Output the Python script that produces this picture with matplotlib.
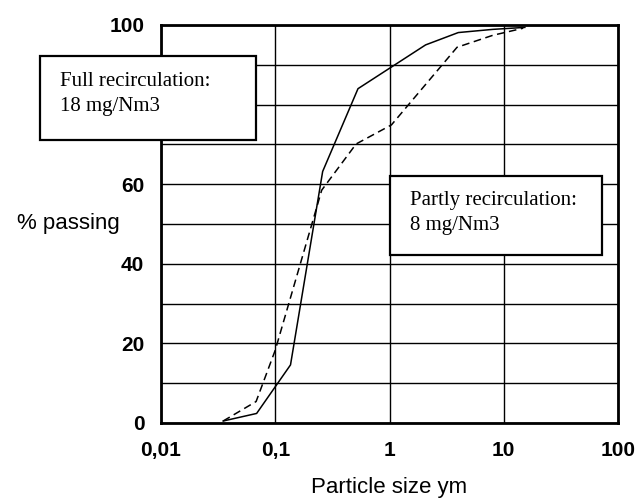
import matplotlib.pyplot as plt
from matplotlib.patches import Rectangle
from matplotlib.ticker import FixedLocator, NullLocator

# particle size (um) vs % passing
full_x = [0.035, 0.0687, 0.136, 0.26, 0.53, 2.07, 4.0, 8.0, 15.3]
full_y = [0.5, 2.4, 14.6, 63.2, 84.0, 95.0, 98.1, 98.9, 99.4]

part_x = [0.035, 0.068, 0.1, 0.255, 0.51, 1.04, 3.9, 8.0, 14.8]
part_y = [0.5, 5.4, 18.3, 58.5, 70.1, 74.9, 94.4, 97.4, 99.2]

xticks = [0.01, 0.1, 1, 10, 100]
xlabels = ['0,01', '0,1', '1', '10', '100']
yticks = [0, 20, 40, 60, 100]   # 80 sits under the box

fig = plt.figure(figsize=(6.4, 5.01), dpi=100)
ax = fig.add_axes([161/640, 1 - 423/501, (618 - 161)/640, (423 - 25)/501])

ax.plot(full_x, full_y, color='black', lw=1.1, zorder=3)
ax.plot(part_x, part_y, color='black', lw=1.1, ls=(0, (5, 3)), zorder=3)

ax.set_xscale('log')
ax.set_xlim(0.01, 100)
ax.set_ylim(0, 100)
ax.xaxis.set_major_locator(FixedLocator(xticks))
ax.xaxis.set_minor_locator(NullLocator())
ax.set_xticks(xticks)
ax.set_xticklabels(xlabels)
ax.set_yticks(yticks)
ax.set_yticks(range(0, 101, 10), minor=True)
ax.grid(True, which='major', axis='x', color='black', lw=1)
ax.grid(True, which='both', axis='y', color='black', lw=1)
ax.tick_params(which='both', length=0)
ax.tick_params(axis='x', pad=13)
ax.tick_params(axis='y', pad=12)
for lab in ax.get_xticklabels() + ax.get_yticklabels():
    lab.set_fontfamily('Liberation Sans')
    lab.set_fontweight('bold')
    lab.set_fontsize(15)
for s in ax.spines.values():
    s.set_linewidth(2)

fig.text(120/640, 1 - 224/501, '% passing', fontsize=16, family='Liberation Sans',
         ha='right', va='center')
fig.text(389/640, 1 - 488/501, 'Particle size ym', fontsize=16, family='Liberation Sans',
         ha='center', va='center')

# annotation boxes
boxes = [
    (40, 56, 256, 140, 'Full recirculation:\n18 mg/Nm3', 60, 94),
    (390, 176, 602, 255, 'Partly recirculation:\n8 mg/Nm3', 410, 213),
]
for x0, y0, x1, y1, txt, tx, ty in boxes:
    r = Rectangle((x0/640, 1 - y1/501), (x1 - x0)/640, (y1 - y0)/501,
                  transform=fig.transFigure, facecolor='white', edgecolor='black',
                  lw=1.6, zorder=5)
    fig.patches.append(r)
    fig.text(tx/640, 1 - ty/501, txt, fontsize=15, family='Liberation Serif',
             ha='left', va='center', linespacing=1.4, zorder=6)

fig.savefig('out.png', dpi=100)
